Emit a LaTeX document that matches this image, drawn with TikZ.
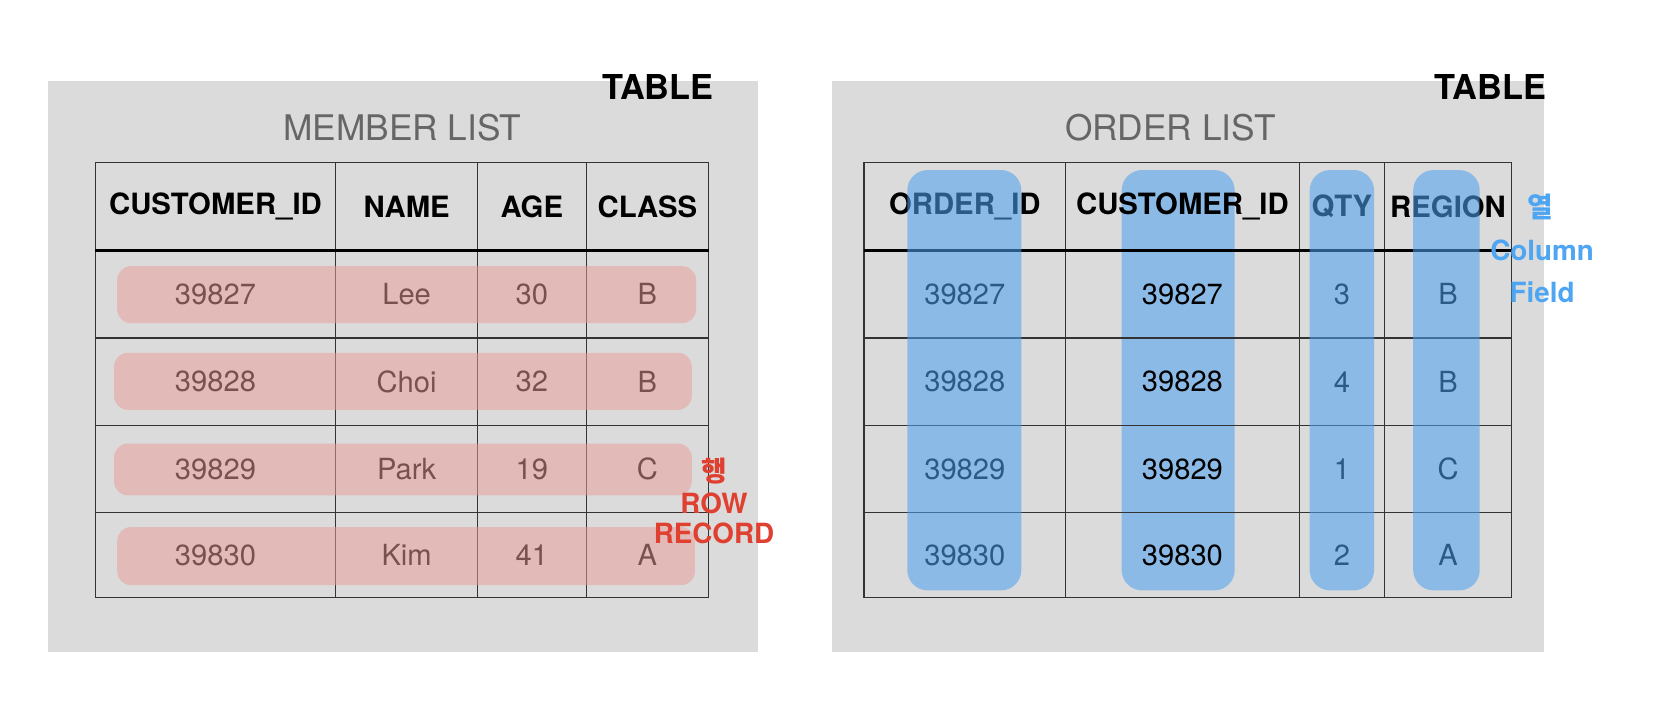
\documentclass[tikz,border=0pt]{standalone}
\usepackage{fontspec}
\setmainfont{TeX Gyre Heros}
\newfontfamily\kofont{Noto Sans CJK KR}
\definecolor{panelgray}{HTML}{DBDBDB}
\definecolor{titlegray}{HTML}{666666}
\definecolor{rowred}{RGB}{233,159,155}
\definecolor{colblue}{RGB}{77,161,239}
\definecolor{labelred}{HTML}{E0402F}
\definecolor{labelblue}{HTML}{4EA5F2}

\begin{document}
\begin{tikzpicture}[x=0.02cm, y=-0.02cm,
	panel/.style={fill=panelgray, draw=none},
	title/.style={font=\fontsize{19}{22}\selectfont, text=titlegray},
	tag/.style={font=\fontsize{18.5}{22}\selectfont\bfseries, anchor=east, inner sep=0pt},
	head/.style={font=\fontsize{15.8}{18}\selectfont\bfseries, inner sep=0pt},
	cell/.style={font=\fontsize{15.7}{18}\selectfont, inner sep=0pt},
	grid/.style={draw=black!80, line width=0.6pt},
	headline/.style={draw=black, line width=1.5pt},
	rowbar/.style={fill=rowred, fill opacity=0.52, rounded corners=7.4pt},
	colbar/.style={fill=colblue, fill opacity=0.56, rounded corners=11pt},
	rowlabel/.style={font=\fontsize{15}{18}\selectfont\bfseries, text=labelred, inner sep=0pt},
	collabel/.style={font=\fontsize{15}{18}\selectfont\bfseries, text=labelblue, inner sep=0pt}]

	\useasboundingbox (0,0) rectangle (1566,678);

	%column centers (member list / order list)
	\def\colMa{204} \def\colMb{385} \def\colMc{503.5} \def\colMd{613}
	\def\colOa{913.5} \def\colOb{1119.5} \def\colOc{1270.5} \def\colOd{1371}
	%row centers
	\def\rowHd{195.5} \def\rowA{278.5} \def\rowB{361.5} \def\rowC{444} \def\rowD{525.5}

	%grey table panels
	\fill[panel] (45,77) rectangle (718,617);
	\fill[panel] (788,77) rectangle (1462,617);

	%customer_id bar sits below the text
	\fill[colbar] (1062,161) rectangle (1169,559);

	%member list grid
	\draw[grid] (90,154) rectangle (671,566);
	\draw[grid] (318,154) -- (318,566) (452,154) -- (452,566) (555,154) -- (555,566);
	\draw[grid] (90,320) -- (671,320) (90,403) -- (671,403) (90,485) -- (671,485);
	\draw[headline] (90,237) -- (671,237);

	%order list grid
	\draw[grid] (818,154) rectangle (1431,566);
	\draw[grid] (1009,154) -- (1009,566) (1230,154) -- (1230,566) (1311,154) -- (1311,566);
	\draw[grid] (818,320) -- (1431,320) (818,403) -- (1431,403) (818,485) -- (1431,485);
	\draw[headline] (818,237) -- (1431,237);

	%titles
	\node[tag] (mtag) at (676,82) {TABLE};
	\node[title] (mtitle) at (381,121) {MEMBER LIST};
	\node[tag] (otag) at (1464,82) {TABLE};
	\node[title] (otitle) at (1108,121) {ORDER LIST};

	%member list cells
	\node[head] (mh1) at (\colMa,\rowHd) {CUSTOMER\_ID};
	\node[head] (mh2) at (\colMb,\rowHd) {NAME};
	\node[head] (mh3) at (\colMc,\rowHd) {AGE};
	\node[head] (mh4) at (\colMd,\rowHd) {CLASS};
	\node[cell] (ma1) at (\colMa,\rowA) {39827};
	\node[cell] (ma2) at (\colMb,\rowA) {Lee};
	\node[cell] (ma3) at (\colMc,\rowA) {30};
	\node[cell] (ma4) at (\colMd,\rowA) {B};
	\node[cell] (mb1) at (\colMa,\rowB) {39828};
	\node[cell] (mb2) at (\colMb,\rowB) {Choi};
	\node[cell] (mb3) at (\colMc,\rowB) {32};
	\node[cell] (mb4) at (\colMd,\rowB) {B};
	\node[cell] (mc1) at (\colMa,\rowC) {39829};
	\node[cell] (mc2) at (\colMb,\rowC) {Park};
	\node[cell] (mc3) at (\colMc,\rowC) {19};
	\node[cell] (mc4) at (\colMd,\rowC) {C};
	\node[cell] (md1) at (\colMa,\rowD) {39830};
	\node[cell] (md2) at (\colMb,\rowD) {Kim};
	\node[cell] (md3) at (\colMc,\rowD) {41};
	\node[cell] (md4) at (\colMd,\rowD) {A};

	%order list cells
	\node[head] (oh1) at (\colOa,\rowHd) {ORDER\_ID};
	\node[head] (oh2) at (\colOb,\rowHd) {CUSTOMER\_ID};
	\node[head] (oh3) at (\colOc,\rowHd) {QTY};
	\node[head] (oh4) at (\colOd,\rowHd) {REGION};
	\node[cell] (oa1) at (\colOa,\rowA) {39827};
	\node[cell] (oa2) at (\colOb,\rowA) {39827};
	\node[cell] (oa3) at (\colOc,\rowA) {3};
	\node[cell] (oa4) at (\colOd,\rowA) {B};
	\node[cell] (ob1) at (\colOa,\rowB) {39828};
	\node[cell] (ob2) at (\colOb,\rowB) {39828};
	\node[cell] (ob3) at (\colOc,\rowB) {4};
	\node[cell] (ob4) at (\colOd,\rowB) {B};
	\node[cell] (oc1) at (\colOa,\rowC) {39829};
	\node[cell] (oc2) at (\colOb,\rowC) {39829};
	\node[cell] (oc3) at (\colOc,\rowC) {1};
	\node[cell] (oc4) at (\colOd,\rowC) {C};
	\node[cell] (od1) at (\colOa,\rowD) {39830};
	\node[cell] (od2) at (\colOb,\rowD) {39830};
	\node[cell] (od3) at (\colOc,\rowD) {2};
	\node[cell] (od4) at (\colOd,\rowD) {A};

	%row highlights
	\fill[rowbar] (111,252) rectangle (659,306);
	\fill[rowbar] (108,334) rectangle (655,388);
	\fill[rowbar] (108,420) rectangle (655,469);
	\fill[rowbar] (111,499) rectangle (658,554);

	%column highlights
	\fill[colbar] (859,161) rectangle (967,559);
	\fill[colbar] (1240,161) rectangle (1301,559);
	\fill[colbar] (1338,161) rectangle (1401,559);

	%row labels
	\node[rowlabel] (rowko) at (676,446) {\kofont\bfseries 행};
	\node[rowlabel] (rowen) at (676,477) {ROW};
	\node[rowlabel] (rowrec) at (676,505) {RECORD};

	%column labels
	\node[collabel] (colko) at (1458,196) {\kofont\bfseries 열};
	\node[collabel] (colen) at (1460,237) {Column};
	\node[collabel] (colfld) at (1460,277) {Field};

\end{tikzpicture}
\end{document}
